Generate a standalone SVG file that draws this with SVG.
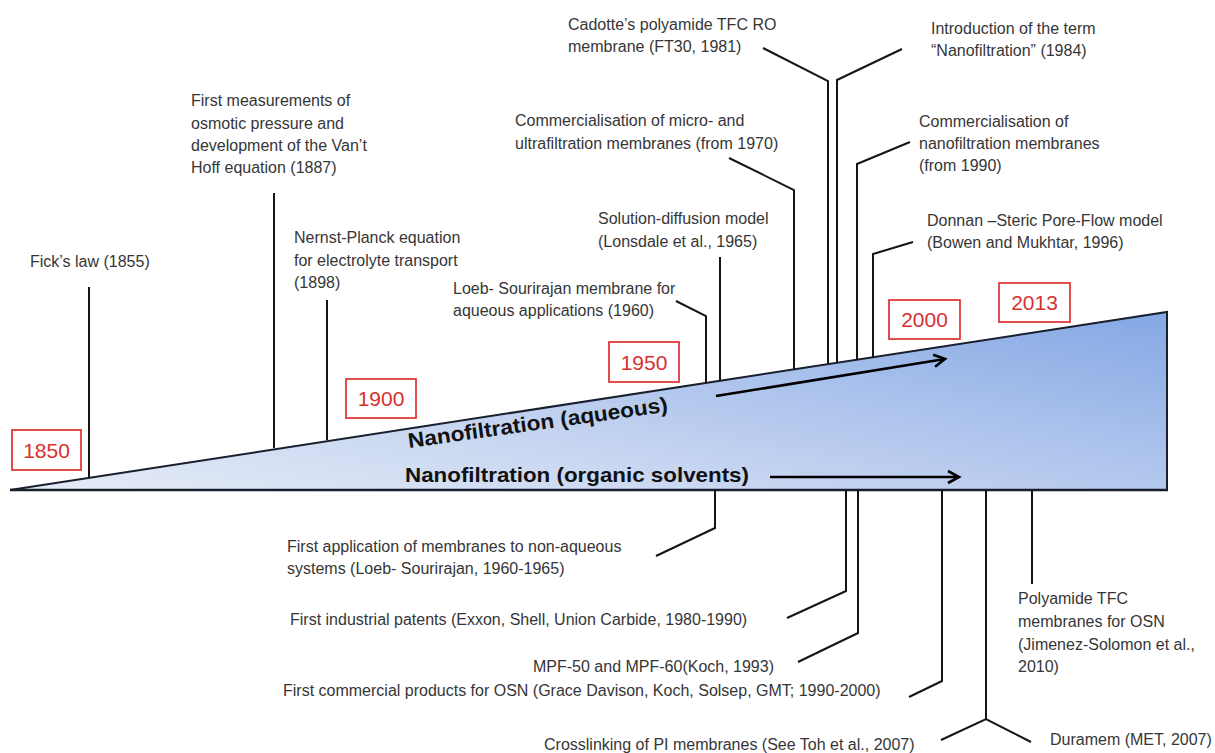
<svg xmlns="http://www.w3.org/2000/svg" width="1215" height="753" viewBox="0 0 1215 753">
<defs>
<linearGradient id="wg" gradientUnits="userSpaceOnUse" x1="10" y1="490" x2="82" y2="108">
<stop offset="0" stop-color="#e6ecf7"/>
<stop offset="0.35" stop-color="#c9d7f1"/>
<stop offset="0.6" stop-color="#afc5ed"/>
<stop offset="1" stop-color="#84a7e4"/>
</linearGradient>
<marker id="ah" markerUnits="userSpaceOnUse" markerWidth="18" markerHeight="18" refX="14" refY="9" orient="auto">
<path d="M3,3 L14,9 L3,15" fill="none" stroke="#000" stroke-width="2.6" stroke-linejoin="miter"/>
</marker>
</defs>
<style>
.t{font-family:"Liberation Sans",Arial,sans-serif;font-size:16px;fill:#363636}
.b{font-family:"Liberation Sans",Arial,sans-serif;font-size:21px;font-weight:bold;fill:#111}
.yr{fill:none;stroke:#e23a3a;stroke-width:1.8}
.yt{font-family:"Liberation Sans",Arial,sans-serif;font-size:21px;fill:#d8302f;text-anchor:middle}
.c{fill:none;stroke:#151515;stroke-width:2}
.ar{fill:none;stroke:#000;stroke-width:2.6}
</style>
<rect width="1215" height="753" fill="#fff"/>

<g id="wedge">
<path d="M10,490 L1167,312 L1167,490 Z" fill="url(#wg)" stroke="none"/>
<path d="M10,490 L1167,312 L1167,490" fill="none" stroke="#1a1f2e" stroke-width="2"/>
<line x1="10" y1="490" x2="1168" y2="490" stroke="#1a1f2e" stroke-width="2.5"/>
<text class="b" transform="translate(409,448) rotate(-8)" textLength="262" lengthAdjust="spacingAndGlyphs">Nanofiltration (aqueous)</text>
<text class="b" x="405" y="482" textLength="344" lengthAdjust="spacingAndGlyphs">Nanofiltration (organic solvents)</text>
</g>

<g id="years">
<g id="y1850"><rect class="yr" x="12" y="430" width="69" height="40"/><text class="yt" x="46.5" y="458">1850</text></g>
<g id="y1900"><rect class="yr" x="346" y="379" width="70" height="39"/><text class="yt" x="381" y="406">1900</text></g>
<g id="y1950"><rect class="yr" x="609" y="342" width="70" height="40"/><text class="yt" x="644" y="370">1950</text></g>
<g id="y2000"><rect class="yr" x="889" y="300" width="71" height="39"/><text class="yt" x="924.5" y="327">2000</text></g>
<g id="y2013"><rect class="yr" x="999" y="283" width="71" height="39"/><text class="yt" x="1034.5" y="310">2013</text></g>
</g>

<g id="connectors">
<line class="ar" x1="716" y1="396" x2="945" y2="359" marker-end="url(#ah)"/>
<line class="ar" x1="770" y1="477" x2="959" y2="477" marker-end="url(#ah)"/>
<polyline class="c" points="89,287 89,477"/>
<polyline class="c" points="274,193 274,448"/>
<polyline class="c" points="327,300 327,440"/>
<polyline class="c" points="676,301 706,316 706,383"/>
<polyline class="c" points="720,257 720,381"/>
<polyline class="c" points="729,158 794,190 794,370"/>
<polyline class="c" points="763,48 828,81 828,364"/>
<polyline class="c" points="902,49 837,80 837,363"/>
<polyline class="c" points="910,142 857,164 857,360"/>
<polyline class="c" points="913,242 873,254 873,357"/>
<polyline class="c" points="715,490 715,528 656,556"/>
<polyline class="c" points="846,490 846,591 787,618"/>
<polyline class="c" points="858,490 858,633 798,662"/>
<polyline class="c" points="942,490 942,681 909,697"/>
<polyline class="c" points="986,490 986,719"/>
<polyline class="c" points="941,740 986,719 1031,742"/>
<polyline class="c" points="1032,490 1032,584"/>
</g>

<g id="n-fick"><text class="t" x="30" y="267">Fick’s law (1855)</text></g>
<g id="n-vanthoff"><text class="t" x="191" y="106">First measurements of</text><text class="t" x="191" y="129">osmotic pressure and</text><text class="t" x="191" y="151">development of the Van’t</text><text class="t" x="191" y="173">Hoff equation (1887)</text></g>
<g id="n-nernst"><text class="t" x="294" y="243">Nernst-Planck equation</text><text class="t" x="294" y="266">for electrolyte transport</text><text class="t" x="294" y="288">(1898)</text></g>
<g id="n-loeb"><text class="t" x="453" y="294">Loeb- Sourirajan membrane for</text><text class="t" x="453" y="316">aqueous applications (1960)</text></g>
<g id="n-soldiff"><text class="t" x="598" y="224">Solution-diffusion model</text><text class="t" x="598" y="247">(Lonsdale et al., 1965)</text></g>
<g id="n-microuf"><text class="t" x="515" y="126">Commercialisation of micro- and</text><text class="t" x="515" y="149">ultrafiltration membranes (from 1970)</text></g>
<g id="n-cadotte"><text class="t" x="568" y="30">Cadotte’s polyamide TFC RO</text><text class="t" x="568" y="52">membrane (FT30, 1981)</text></g>
<g id="n-nfterm"><text class="t" x="931" y="34">Introduction of the term</text><text class="t" x="931" y="56">“Nanofiltration” (1984)</text></g>
<g id="n-commnf"><text class="t" x="919" y="127">Commercialisation of</text><text class="t" x="919" y="149">nanofiltration membranes</text><text class="t" x="919" y="171">(from 1990)</text></g>
<g id="n-donnan"><text class="t" x="927" y="226">Donnan –Steric Pore-Flow model</text><text class="t" x="927" y="248">(Bowen and Mukhtar, 1996)</text></g>

<g id="n-nonaq"><text class="t" x="287" y="552">First application of membranes to non-aqueous</text><text class="t" x="287" y="574">systems (Loeb- Sourirajan, 1960-1965)</text></g>
<g id="n-patents"><text class="t" x="290" y="625">First industrial patents (Exxon, Shell, Union Carbide, 1980-1990)</text></g>
<g id="n-mpf"><text class="t" x="533" y="672">MPF-50 and MPF-60(Koch, 1993)</text></g>
<g id="n-osn"><text class="t" x="283" y="696">First commercial products for OSN (Grace Davison, Koch, Solsep, GMT; 1990-2000)</text></g>
<g id="n-crosslink"><text class="t" x="544" y="750">Crosslinking of PI membranes (See Toh et al., 2007)</text></g>
<g id="n-polyamide"><text class="t" x="1018" y="604">Polyamide TFC</text><text class="t" x="1018" y="627">membranes for OSN</text><text class="t" x="1018" y="650">(Jimenez-Solomon et al.,</text><text class="t" x="1018" y="672">2010)</text></g>
<g id="n-duramem"><text class="t" x="1050" y="745">Duramem (MET, 2007)</text></g>
</svg>
